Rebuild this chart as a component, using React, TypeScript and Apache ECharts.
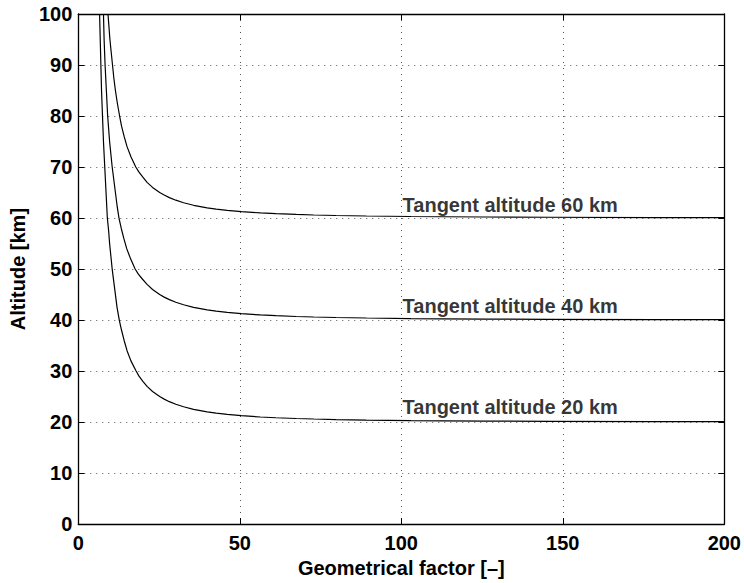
import React, { useEffect, useRef } from "react";
import * as echarts from "echarts";

const xTicks = [0, 50, 100, 150, 200];
const yTicks = [0, 10, 20, 30, 40, 50, 60, 70, 80, 90, 100];

// Tangent altitude 20 km
const alt20 = [100, 95, 90, 85, 80, 75, 70, 65, 60, 57.5, 55, 52.5, 50, 47.5, 45, 42.5, 40, 38, 36, 34, 32, 30, 29, 28, 27, 26, 25, 24.5, 24, 23.5, 23, 22.5, 22, 21.75, 21.5, 21.25, 21, 20.85, 20.7, 20.6, 20.5, 20.4, 20.3, 20.25, 20.2, 20.15, 20.1, 20.08];
const fac20 = [6.6, 6.8, 7.0, 7.2, 7.5, 7.8, 8.2, 8.6, 9.0, 9.4, 9.7, 10.1, 10.5, 11.0, 11.5, 12.0, 12.7, 13.4, 14.2, 15.1, 16.3, 17.9, 18.8, 20.0, 21.3, 23.0, 25.2, 26.6, 28.2, 30.2, 32.6, 35.7, 39.9, 42.7, 46.1, 50.5, 56.4, 61.2, 67.5, 72.9, 79.8, 89.2, 103, 112.9, 126.2, 145.7, 178.5, 200];

// Tangent altitude 40 km
const alt40 = [100, 95, 90, 85, 80, 77.5, 75, 72.5, 70, 67.5, 65, 62.5, 60, 58, 56, 54, 52, 50, 49, 48, 47, 46, 45, 44.5, 44, 43.5, 43, 42.5, 42, 41.75, 41.5, 41.25, 41, 40.85, 40.7, 40.6, 40.5, 40.4, 40.3, 40.25, 40.2, 40.15, 40.1, 40.08];
const fac40 = [7.8, 8.0, 8.3, 8.7, 9.1, 9.4, 9.7, 10.1, 10.5, 11.0, 11.5, 12.0, 12.6, 13.3, 14.1, 15.0, 16.2, 17.6, 18.6, 19.9, 21.3, 23.0, 25.2, 26.6, 28.2, 30.2, 32.6, 35.7, 39.9, 42.7, 46.1, 50.5, 56.4, 61.2, 67.5, 72.9, 79.8, 89.2, 103, 112.9, 126.2, 145.7, 178.5, 200];

// Tangent altitude 60 km
const alt60 = [100, 97.5, 95, 92.5, 90, 87.5, 85, 82.5, 80, 78, 76, 74, 72, 70, 69, 68, 67, 66, 65, 64.5, 64, 63.5, 63, 62.5, 62, 61.75, 61.5, 61.25, 61, 60.85, 60.7, 60.6, 60.5, 60.4, 60.3, 60.25, 60.2, 60.15, 60.1, 60.08];
const fac60 = [9.2, 9.5, 9.8, 10.2, 10.6, 11.0, 11.5, 12.1, 12.8, 13.4, 14.2, 15.1, 16.3, 17.8, 18.8, 20.0, 21.3, 23.0, 25.2, 26.6, 28.2, 30.2, 32.6, 35.7, 39.9, 42.7, 46.1, 50.5, 56.4, 61.2, 67.5, 72.9, 79.8, 89.2, 103, 112.9, 126.2, 145.7, 178.5, 200];

const labelTexts = ["Tangent altitude 60 km", "Tangent altitude 40 km", "Tangent altitude 20 km"];
const labelX = [100.4, 100.4, 100.4];
const labelY = [62.6, 42.7, 22.9];

const FONT = "'Liberation Sans', Arial, Helvetica, sans-serif";

function pairs(fac: number[], alt: number[]) {
  return alt.map((a, i) => [fac[i], a]);
}

export default function App() {
  const ref = useRef<HTMLDivElement>(null);
  useEffect(() => {
    if (!ref.current) return;
    const chart = echarts.init(ref.current, null, { renderer: "svg" });
    const gridLine = { show: true, lineStyle: { color: "#555", width: 1, type: [1, 5] as any } };
    const lineSeries = (d: number[][]) => ({
      type: "line",
      data: d,
      showSymbol: false,
      symbol: "none",
      smooth: false,
      lineStyle: { color: "#000", width: 1.2 },
      xAxisIndex: 0,
      yAxisIndex: 0,
      silent: true,
    });
    const boxAxisLine = { show: true, onZero: false, lineStyle: { color: "#000", width: 1.3 } };
    const boxTick = { show: true, inside: true, length: 6, lineStyle: { color: "#000" } };
    chart.setOption({
      animation: false,
      backgroundColor: "#fff",
      grid: { left: 73, right: 17, top: 14, bottom: 53, containLabel: false },
      xAxis: [
        {
          type: "value",
          min: xTicks[0],
          max: xTicks[xTicks.length - 1],
          interval: 50,
          position: "bottom",
          name: "Geometrical factor [–]",
          nameLocation: "middle",
          nameGap: 32,
          nameTextStyle: { fontFamily: FONT, fontWeight: "bold", fontSize: 20, color: "#000" },
          axisLine: boxAxisLine,
          axisTick: boxTick,
          axisLabel: { fontFamily: FONT, fontWeight: "bold", fontSize: 20, color: "#000", margin: 9 },
          splitLine: gridLine,
        },
        {
          type: "value",
          min: xTicks[0],
          max: xTicks[xTicks.length - 1],
          interval: 50,
          position: "top",
          axisLine: boxAxisLine,
          axisTick: boxTick,
          axisLabel: { show: false },
          splitLine: { show: false },
        },
      ],
      yAxis: [
        {
          type: "value",
          min: yTicks[0],
          max: yTicks[yTicks.length - 1],
          interval: 10,
          position: "left",
          name: "Altitude [km]",
          nameLocation: "middle",
          nameGap: 47,
          nameRotate: 90,
          nameTextStyle: { fontFamily: FONT, fontWeight: "bold", fontSize: 20, color: "#000" },
          axisLine: boxAxisLine,
          axisTick: boxTick,
          axisLabel: { fontFamily: FONT, fontWeight: "bold", fontSize: 20, color: "#000", margin: 6 },
          splitLine: gridLine,
        },
        {
          type: "value",
          min: yTicks[0],
          max: yTicks[yTicks.length - 1],
          interval: 10,
          position: "right",
          axisLine: boxAxisLine,
          axisTick: boxTick,
          axisLabel: { show: false },
          splitLine: { show: false },
        },
      ],
      series: [
        lineSeries(pairs(fac20, alt20)),
        lineSeries(pairs(fac40, alt40)),
        lineSeries(pairs(fac60, alt60)),
        {
          type: "scatter",
          symbolSize: 0,
          silent: true,
          data: labelTexts.map((t, i) => ({ value: [labelX[i], labelY[i]], name: t })),
          label: {
            show: true,
            position: "right",
            distance: 0,
            formatter: (p: any) => p.name,
            fontFamily: FONT,
            fontWeight: "bold",
            fontSize: 20,
            color: "#000",
          },
        },
      ],
    });
    return () => chart.dispose();
  }, []);
  return (
    <div
      ref={ref}
      style={{ position: "fixed", left: 0, top: 0, width: 744, height: 583, background: "#fff" }}
    />
  );
}
